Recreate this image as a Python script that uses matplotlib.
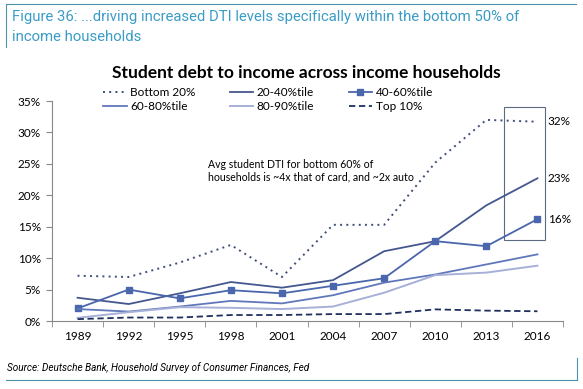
import matplotlib.pyplot as plt
from matplotlib.patches import Rectangle

# Student debt to income, by income bucket (% of income)
years = ['1989', '1992', '1995', '1998', '2001', '2004', '2007', '2010', '2013', '2016']
bottom_20 = [7.2, 7.0, 9.3, 12.1, 7.0, 15.3, 15.3, 25.2, 32.0, 31.7]
p20_40 = [3.7, 2.7, 4.4, 6.2, 5.3, 6.5, 11.1, 12.7, 18.4, 22.7]
p40_60 = [2.0, 5.0, 3.6, 4.9, 4.4, 5.6, 6.8, 12.7, 11.9, 16.2]
p60_80 = [1.9, 1.5, 2.3, 3.2, 2.8, 4.1, 6.1, 7.4, 9.0, 10.6]
p80_90 = [0.5, 1.4, 2.2, 2.1, 1.9, 2.3, 4.5, 7.3, 7.7, 8.8]
top_10 = [0.3, 0.55, 0.55, 0.95, 0.95, 1.1, 1.1, 1.85, 1.65, 1.55]
end_labels = ['32%', '23%', '16%']
y_ticks = [0, 5, 10, 15, 20, 25, 30, 35]

FONT = 'Lato'
HEAD = '#3a9cc6'
RULE = '#4e93ad'

fig = plt.figure(figsize=(5.83, 3.89), dpi=100)
ax = fig.add_axes([52 / 583, 1 - 321 / 389, 511 / 583, 220 / 389])

x = list(range(len(years)))
l_b20, = ax.plot(x, bottom_20, color='#3e4c7a', lw=1.4, linestyle=(0, (1, 2.2)))
l_2040, = ax.plot(x, p20_40, color='#44578e', lw=1.3)
l_4060, = ax.plot(x, p40_60, color='#4a66ad', lw=1.3, marker='s', markersize=5)
l_6080, = ax.plot(x, p60_80, color='#6078bb', lw=1.3)
l_8090, = ax.plot(x, p80_90, color='#a7b0d8', lw=1.4)
l_top, = ax.plot(x, top_10, color='#1f2f5e', lw=1.3, linestyle=(0, (3.5, 2)))

ax.set_xlim(-0.5, len(years) - 0.5)
ax.set_ylim(0, 35)
ax.set_yticks(y_ticks)
ax.set_yticklabels([f'{v}%' for v in y_ticks], fontsize=8.5, family=FONT)
ax.set_xticks(x)
ax.set_xticklabels(years, fontsize=8.5, family=FONT)
ax.tick_params(axis='x', which='major', length=0, pad=7)
ax.set_xticks([i - 0.5 for i in range(len(years) + 1)], minor=True)
ax.tick_params(axis='x', which='minor', length=4, color='#888888')
ax.tick_params(axis='y', length=4, color='#888888', pad=4)
for side in ['top', 'right']:
    ax.spines[side].set_visible(False)
for side in ['left', 'bottom']:
    ax.spines[side].set_color('#888888')
    ax.spines[side].set_linewidth(0.8)

# highlight box around 2016 end values
ax.add_patch(Rectangle((8.35, 12.9), 0.79, 21.2, fill=False, edgecolor='#5d6b80',
                       lw=0.8, clip_on=False))
for lab, val in zip(end_labels, [bottom_20[-1], p20_40[-1], p40_60[-1]]):
    ax.text(9.2, val, lab, fontsize=8.5, family=FONT, va='center', ha='left')

ax.text(2.55, 23.9, 'Avg student DTI for bottom 60% of\nhouseholds is ~4x that of card, and ~2x auto',
        fontsize=7.6, family=FONT, va='center', ha='left', linespacing=1.25)

handles = [l_b20, l_6080, l_2040, l_8090, l_4060, l_top]
labels = ['Bottom 20%', '60-80%tile', '20-40%tile', '80-90%tile', '40-60%tile', 'Top 10%']
fig.legend(handles, labels, ncol=3, loc='upper left', bbox_to_anchor=(97 / 583, 1 - 81 / 389),
           frameon=False, prop={'family': FONT, 'size': 8.5}, handlelength=2.0,
           handletextpad=0.3, columnspacing=2.9, labelspacing=0.25, borderpad=0)

fig.text(306 / 583, 1 - 73 / 389, 'Student debt to income across income households',
         fontsize=12.5, fontweight='bold', family=FONT, ha='center', va='center')

fig.text(12 / 583, 1 - 17 / 389, 'Figure 36: ...driving increased DTI levels specifically within the bottom 50% of',
         fontsize=10.7, family='Roboto', color=HEAD, ha='left', va='center')
fig.text(12 / 583, 1 - 37 / 389, 'income households',
         fontsize=10.7, family='Roboto', color=HEAD, ha='left', va='center')
fig.add_artist(plt.Line2D([6 / 583, 576 / 583], [1 - 4 / 389, 1 - 4 / 389], color=RULE, lw=0.8))
fig.add_artist(plt.Line2D([6 / 583, 6 / 583], [1 - 4 / 389, 1 - 47 / 389], color=RULE, lw=0.8))

fig.text(7 / 583, 1 - 368 / 389, 'Source: Deutsche Bank, Household Survey of Consumer Finances, Fed',
         fontsize=7.2, family='Roboto', style='italic', ha='left', va='center')
fig.add_artist(plt.Line2D([6 / 583, 577 / 583], [1 - 380 / 389, 1 - 380 / 389], color=RULE, lw=0.8))
fig.add_artist(plt.Line2D([577 / 583, 577 / 583], [1 - 358 / 389, 1 - 380 / 389], color=RULE, lw=0.8))

fig.savefig('out.png', dpi=100)
